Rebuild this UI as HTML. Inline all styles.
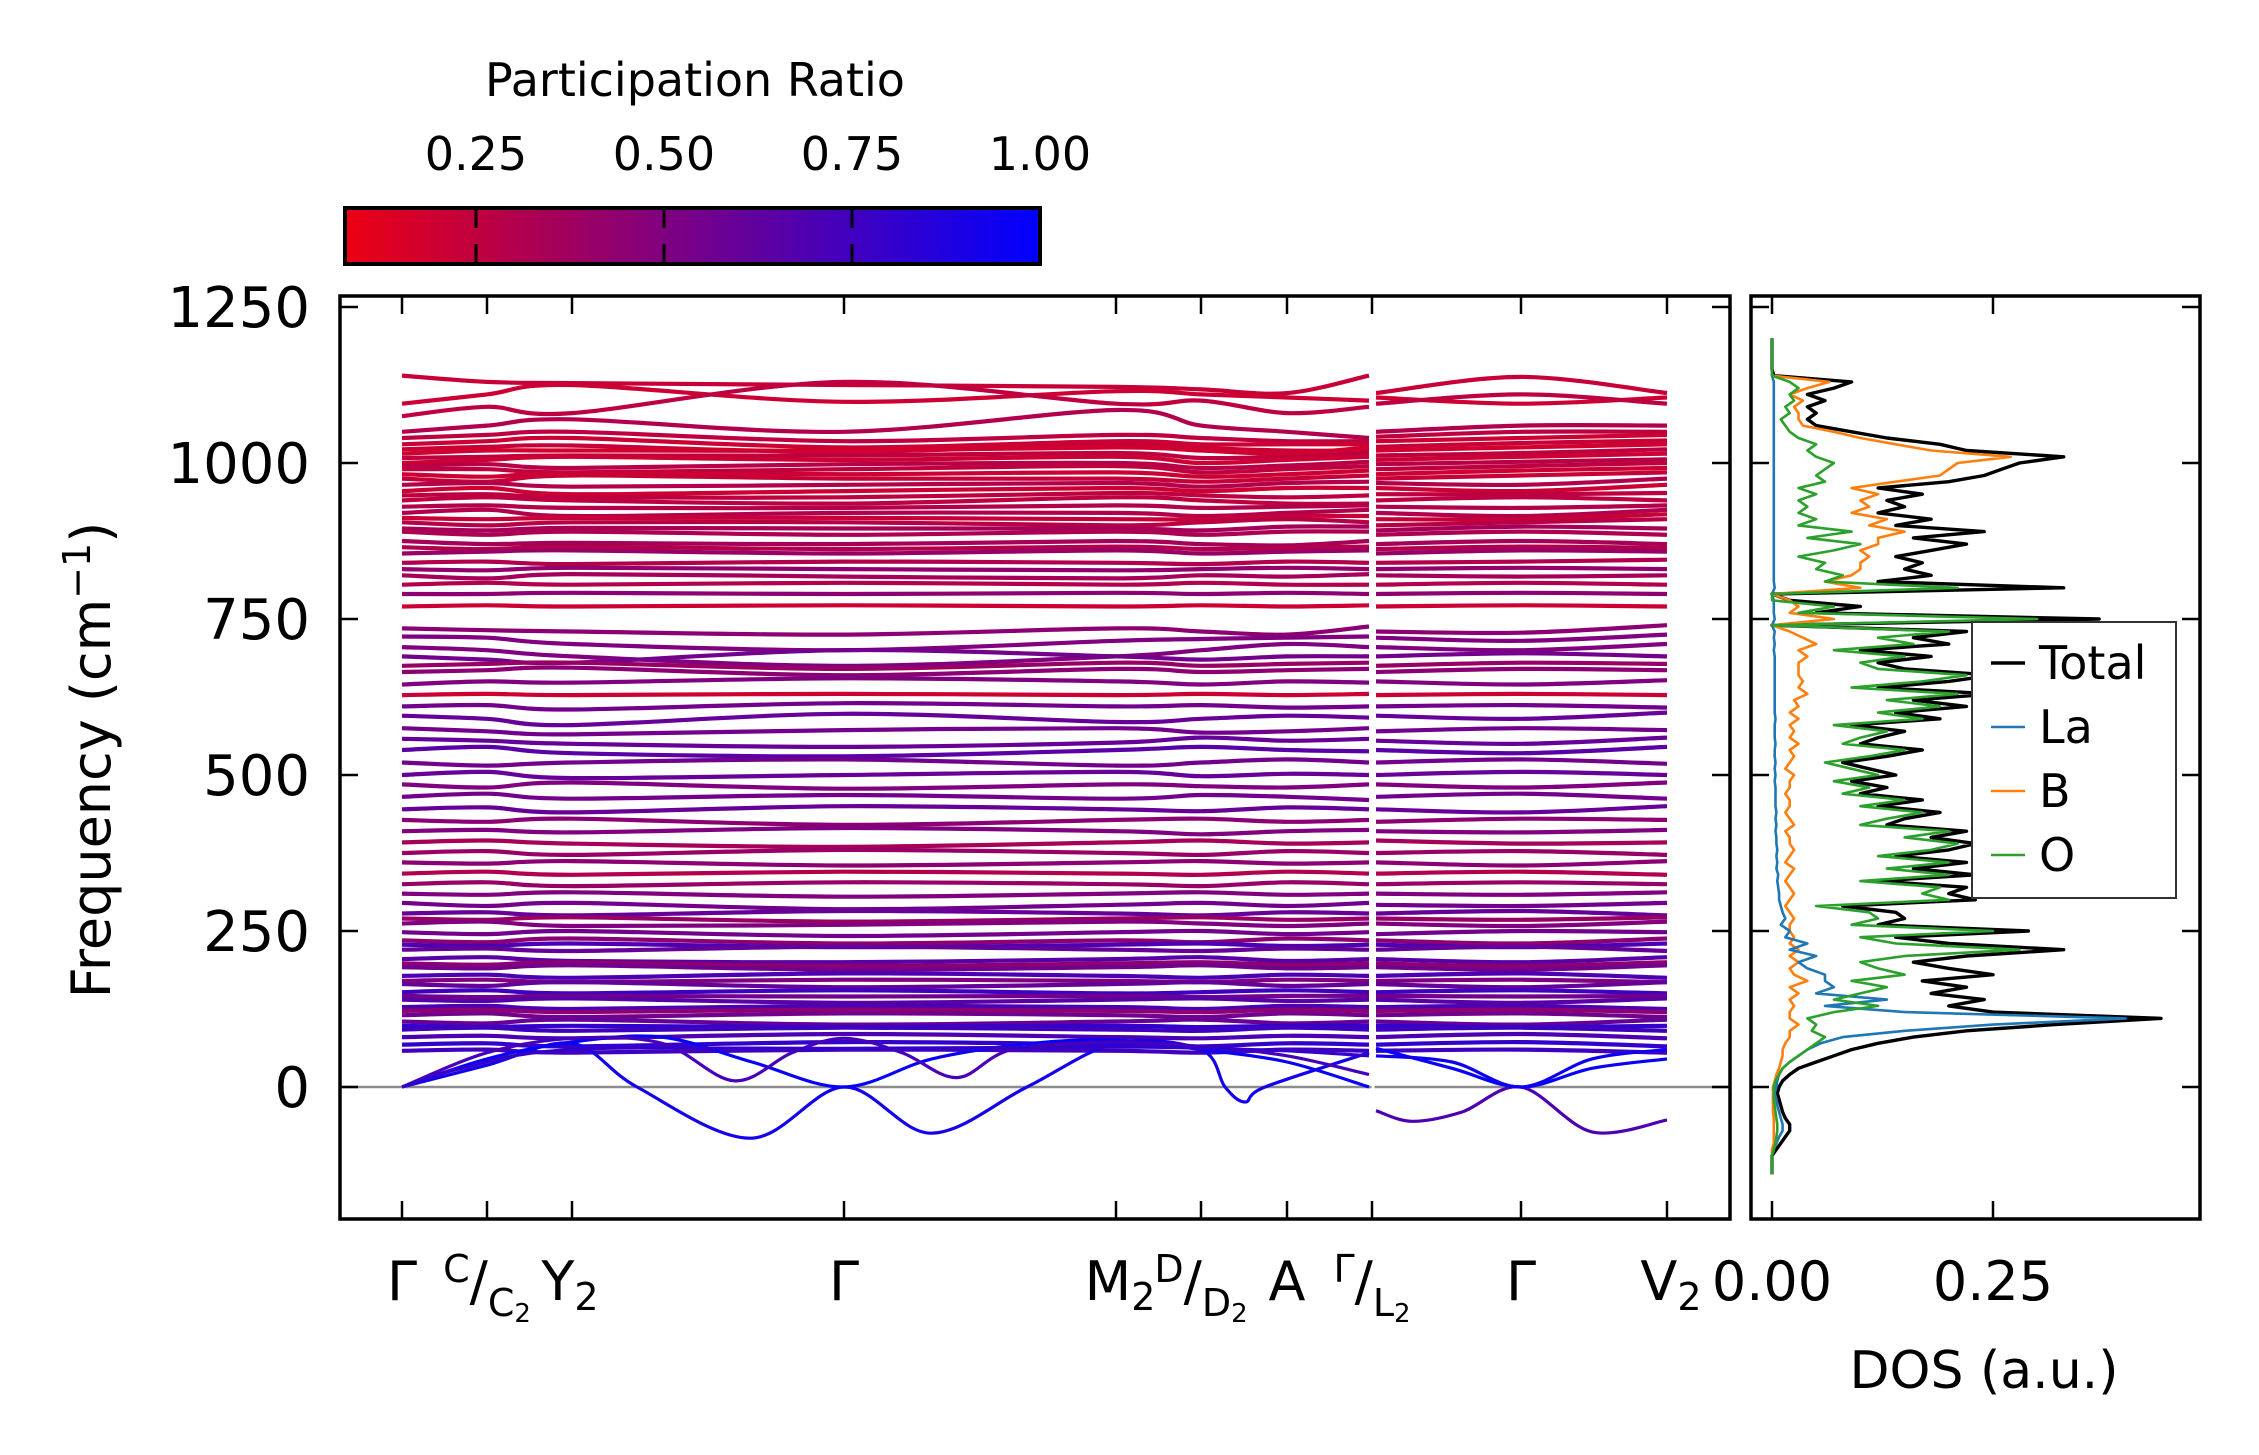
<!DOCTYPE html>
<html><head><meta charset="utf-8"><style>
html,body{margin:0;padding:0;background:#fff;}
svg{display:block;font-family:"DejaVu Sans","Liberation Sans",sans-serif;}
</style></head><body>
<svg id="fig" width="2259" height="1455" viewBox="0 0 2259 1455" xmlns="http://www.w3.org/2000/svg">
<defs>
<linearGradient id="cbgrad" x1="0" x2="1" y1="0" y2="0">
<stop offset="0" stop-color="rgb(236,0,19)"/><stop offset="1" stop-color="rgb(0,0,255)"/>
</linearGradient>
<clipPath id="bandclip"><rect x="340" y="295" width="1390" height="924"/></clipPath>
<clipPath id="dosclip"><rect x="1751" y="295" width="449" height="924"/></clipPath>
</defs>
<g id="colorbar">
<text x="695" y="96" font-size="46" text-anchor="middle">Participation Ratio</text>
<rect x="345" y="208" width="695" height="56" fill="url(#cbgrad)" stroke="#000" stroke-width="4"/>
<g id="cbticks"></g>
</g>
<g id="band-panel">
<g id="bands" clip-path="url(#bandclip)"></g>
<rect x="340" y="296" width="1390" height="923" fill="none" stroke="#000" stroke-width="3.5"/>
<g id="bandticks"></g>
<text transform="translate(110,760) rotate(-90)" font-size="54" text-anchor="middle">Frequency (cm<tspan font-size="38" dy="-20">−1</tspan><tspan dy="20">)</tspan></text>
</g>
<g id="dos-panel">
<g id="dos" clip-path="url(#dosclip)"></g>
<rect x="1751" y="296" width="449" height="923" fill="none" stroke="#000" stroke-width="3.5"/>
<g id="dosticks"></g>
<text x="1984" y="1388" font-size="52" text-anchor="middle">DOS (a.u.)</text>
<g id="legend">
<rect x="1972" y="622" width="204" height="276" fill="#fff" stroke="#333" stroke-width="2"/>
</g>
</g>
</svg>
<script>
const kLabelsPos = [0, 0.85, 1.70, 4.42, 7.14, 7.99, 8.85, 9.70, 11.19, 12.65];
const leftK = [0, 0.85, 1.70, 4.42, 7.14, 7.99, 8.85, 9.67];
const rightK = [9.74, 11.19, 12.65];
const bandFreqs = [
[1140,1130,1128,1125,1122,1118,1112,1140,1112,1138,1112],
[1095,1110,1125,1098,1115,1110,1105,1100,1105,1095,1105],
[1075,1090,1080,1130,1095,1100,1080,1090,1095,1110,1095],
[1050,1060,1070,1050,1085,1060,1050,1040,1050,1060,1060],
[1040,1045,1050,1035,1045,1040,1035,1035,1042,1050,1050],
[1030,1035,1040,1025,1035,1030,1030,1030,1035,1040,1045],
[1022,1026,1028,1018,1030,1024,1020,1020,1026,1032,1036],
[1015,1020,1020,1020,1025,1020,1015,1025,1020,1025,1030],
[1008,1010,1012,1012,1016,1008,1010,1016,1012,1016,1022],
[1000,1005,1010,1005,1010,1000,1005,1010,1005,1010,1015],
[995,998,992,998,1000,992,996,1002,998,1002,1006],
[990,990,985,990,995,985,990,995,990,995,1000],
[982,978,984,982,985,978,982,988,982,988,992],
[975,970,980,975,975,970,975,980,975,980,985],
[965,968,962,965,968,962,968,970,968,965,975],
[955,960,950,955,960,955,960,960,960,955,965],
[948,950,945,945,952,948,945,948,950,950,952],
[940,945,940,935,945,940,935,935,940,945,940],
[930,932,928,928,932,928,930,932,930,928,932],
[920,925,915,920,920,915,920,925,920,915,925],
[912,910,912,912,910,910,915,915,910,910,918],
[905,900,905,905,900,905,910,905,900,905,910],
[895,892,896,895,895,892,898,898,892,898,895],
[890,885,890,885,890,885,890,890,885,890,885],
[875,870,872,870,875,870,868,875,870,875,870],
[865,862,866,862,866,862,864,866,862,866,864],
[855,858,860,855,860,855,858,860,855,860,858],
[840,842,838,842,840,838,842,840,840,842,845],
[830,828,832,830,828,830,832,830,830,832,830],
[820,815,822,818,815,820,818,822,820,818,820],
[805,808,805,808,805,808,805,805,805,808,805],
[790,790,792,790,792,790,792,790,790,792,790],
[770,772,770,772,770,772,770,772,770,772,770],
[735,732,730,725,735,730,725,738,730,728,740],
[722,720,710,700,715,718,720,722,720,715,725],
[705,700,690,675,690,700,710,705,705,700,710],
[690,685,680,700,690,685,690,690,690,695,690],
[675,678,680,670,680,675,678,680,675,680,678],
[665,668,672,660,670,665,668,670,665,670,668],
[645,650,648,655,650,645,650,648,650,645,652],
[628,630,628,630,628,630,628,630,628,630,628],
[610,612,605,615,610,612,608,610,610,612,608],
[595,590,580,598,585,590,595,592,595,590,600],
[575,570,565,572,575,568,570,575,570,575,572],
[558,555,550,545,552,560,555,558,555,550,560],
[540,545,535,530,540,545,540,538,540,535,545],
[520,515,520,525,515,520,525,520,520,525,518],
[500,505,495,500,505,498,502,500,500,505,500],
[485,480,488,478,485,482,480,485,485,480,488],
[465,470,462,468,462,468,465,460,465,470,462],
[445,448,440,450,445,442,448,445,445,440,450],
[428,425,430,420,428,430,425,428,425,430,428],
[410,412,408,415,410,405,410,412,410,408,412],
[392,395,390,385,392,395,390,392,395,390,392],
[375,378,372,380,375,372,378,375,375,378,372],
[360,358,362,355,360,362,358,360,360,355,362],
[342,345,340,345,342,340,345,342,342,345,340],
[325,328,322,328,325,322,328,325,325,328,325],
[310,308,312,305,310,312,308,310,310,308,312],
[295,290,295,285,292,295,290,295,292,290,295],
[278,280,275,282,278,275,280,278,278,282,275],
[270,268,272,265,270,272,268,270,270,268,272],
[262,265,258,260,265,262,258,262,262,258,265],
[248,245,250,242,248,250,245,248,245,250,248],
[235,232,238,230,235,232,238,235,235,230,238],
[228,226,230,224,228,230,226,228,228,224,230],
[220,222,218,225,220,218,222,220,220,225,218],
[205,208,202,200,205,208,202,205,205,200,208],
[198,196,200,194,198,200,196,198,198,194,200],
[192,190,195,188,192,195,190,192,192,188,195],
[178,180,175,182,178,175,180,178,178,182,175],
[170,172,168,172,170,168,172,170,170,172,168],
[165,162,168,160,165,168,162,165,165,160,168],
[152,155,150,155,150,152,155,152,152,155,150],
[146,144,146,145,146,144,146,146,146,145,146],
[140,138,142,135,140,142,138,140,140,135,142],
[128,130,125,130,128,125,130,128,128,130,125],
[122,124,120,124,122,120,124,122,122,124,120],
[115,118,112,118,115,112,118,115,115,118,112],
[105,102,108,100,105,108,102,105,105,100,108],
[98,96,98,96,98,96,98,98,98,96,98],
[92,95,90,95,92,90,95,92,92,95,90],
[80,82,78,85,80,78,82,80,80,85,78],
[68,70,65,72,68,65,70,68,68,72,65],
[58,60,55,60,58,55,60,58,58,60,55]
];
const bandPR = [.22,.2,.25,.3,.25,.2,.22,.18,.25,.2,.28,.25,.2,.22,.3,.2,.25,.25,.3,.3,.22,.28,.35,.32,.35,.3,.4,.3,.42,.35,.3,.45,.2,.45,.5,.5,.55,.4,.45,.5,.2,.55,.6,.55,.6,.65,.55,.6,.5,.55,.6,.45,.5,.35,.4,.45,.3,.4,.5,.55,.6,.4,.5,.55,.45,.7,.6,.65,.45,.55,.7,.5,.6,.75,.55,.65,.7,.45,.55,.6,.8,.75,.7,.8,.75];
const softK = [
[0,0.85,1.70,2.35,3.48,4.42,5.29,6.25,7.14,7.99,8.23,8.43,8.63,9.67],
[0,0.85,1.70,2.6,3.5,4.42,5.3,6.3,7.14,7.99,8.85,9.67],
[0,0.85,1.70,2.6,3.32,3.9,4.42,5.0,5.55,6.1,7.14,7.99,8.85,9.67],
[0,0.6,1.70,4.42,7.14,7.99,8.85,9.67],
[9.74,10.1,10.6,11.19,11.9,12.65],
[9.74,10.5,11.19,11.9,12.65],
[9.74,10.5,11.19,11.9,12.65]
];
const softF = [
[0,35,70,0,-82,0,-74,0,70,60,0,-24,0,55],
[0,45,72,80,40,0,45,70,75,60,40,0],
[0,55,78,70,10,55,78,55,15,60,72,65,50,20],
[0,30,60,62,64,62,58,50],
[-38,-55,-40,0,-72,-53],
[62,30,0,30,45],
[50,40,0,45,60]
];
const softPR = [0.92,0.97,0.72,0.8,0.7,0.97,0.95];

const dosStart = -140, dosStep = 10;
const dosTotal = [0,0,0,0,0.005,0.01, 0.015,0.02,0.02,0.015,0.012,0.01,0.008,0.006, 0.008,0.012,0.02,0.03,0.05,0.07,
0.09,0.12,0.16,0.22,0.32,0.44,0.25, 0.2,0.24,0.18,0.22,0.17,0.25,0.2, 0.16,0.22,0.33,0.2,0.14,0.29,
0.12,0.15,0.14,0.08,0.23,0.2,0.22, 0.12,0.23,0.16,0.22,0.14,0.2,0.23, 0.18,0.22,0.13,0.15,0.19,0.12,0.17,
0.1,0.13,0.09,0.14,0.11,0.08,0.13, 0.17,0.1,0.12,0.15,0.09,0.19,0.14, 0.22,0.16,0.25,0.12,0.2,0.25,0.15,
0.12,0.18,0.1,0.2,0.16,0.22,0.0, 0.37,0.05,0.1,0.02,0.0, 0.33,0.12,0.18,0.15,0.17,0.14,0.18,
0.22,0.16,0.24,0.14,0.18,0.12,0.15, 0.13,0.17,0.12,0.2,0.24,0.26,0.28, 0.33,0.22,0.19,0.13,0.09,0.05,
0.04,0.05,0.04,0.06,0.04,0.07,0.09, 0.002,0,0,0,0,0,0];
const dosO = [0,0,0,0,0.002,0.004, 0.005,0.006,0.006,0.005,0.004,0.003,0.002,0.002, 0.002,0.004,0.008,0.012,0.02,0.03,
0.04,0.05,0.06,0.045,0.05,0.04,0.07, 0.12,0.07,0.1,0.13,0.09,0.15,0.12, 0.1,0.15,0.28,0.14,0.1,0.25,
0.09,0.12,0.11,0.05,0.2,0.17,0.19, 0.1,0.2,0.13,0.2,0.12,0.18,0.21, 0.15,0.2,0.1,0.13,0.17,0.1,0.15,
0.08,0.11,0.07,0.12,0.09,0.06,0.11, 0.15,0.08,0.1,0.13,0.07,0.17,0.12, 0.19,0.13,0.21,0.09,0.17,0.22,0.12,
0.1,0.15,0.07,0.16,0.12,0.2,0.0, 0.3,0.03,0.07,0.0,0.0, 0.21,0.06,0.08,0.05,0.06,0.03,0.07,
0.1,0.04,0.09,0.03,0.05,0.03,0.04, 0.03,0.05,0.03,0.06,0.05,0.06,0.07, 0.05,0.04,0.05,0.03,0.02,0.015,
0.01,0.02,0.015,0.025,0.02,0.03,0.02, 0,0,0,0,0,0,0];
const dosB = [0,0,0,0,0,0.002, 0.002,0.002,0.002,0.002,0.001,0.001,0.001,0.001, 0.001,0.003,0.005,0.008,0.01,0.012,
0.012,0.015,0.02,0.02,0.03,0.02,0.02, 0.025,0.02,0.03,0.02,0.04,0.025,0.02, 0.03,0.02,0.03,0.02,0.025,0.02,
0.02,0.025,0.02,0.015,0.02,0.025,0.02, 0.015,0.02,0.025,0.015,0.02,0.025,0.02, 0.02,0.015,0.025,0.02,0.015,0.02,0.02,
0.015,0.02,0.02,0.025,0.015,0.02,0.025, 0.02,0.03,0.02,0.025,0.02,0.03,0.02, 0.03,0.025,0.04,0.03,0.035,0.03,0.03,
0.03,0.04,0.03,0.05,0.035,0.02,0.0, 0.07,0.02,0.03,0.02,0.0, 0.1,0.06,0.09,0.1,0.1,0.11,0.1,
0.12,0.12,0.15,0.11,0.13,0.09,0.11, 0.1,0.12,0.09,0.14,0.19,0.2,0.21, 0.27,0.18,0.14,0.1,0.07,0.035,
0.03,0.03,0.025,0.035,0.02,0.04,0.065, 0,0,0,0,0,0,0];
const dosLa = [0,0,0,0,0.002,0.005, 0.008,0.012,0.012,0.01,0.008,0.006,0.005,0.003, 0.005,0.006,0.008,0.012,0.02,0.03,
0.04,0.055,0.08,0.15,0.25,0.4,0.15, 0.06,0.13,0.05,0.07,0.06,0.06,0.04, 0.03,0.05,0.02,0.04,0.015,0.02,
0.01,0.015,0.012,0.01,0.008,0.008,0.007, 0.006,0.007,0.005,0.006,0.005,0.006,0.005, 0.005,0.004,0.005,0.004,0.005,0.004,0.004,
0.004,0.004,0.003,0.004,0.003,0.004,0.003, 0.003,0.004,0.003,0.003,0.003,0.004,0.003, 0.003,0.003,0.003,0.003,0.003,0.003,0.003,
0.003,0.003,0.002,0.003,0.002,0.003,0.0, 0.003,0.002,0.002,0.002,0.0, 0.003,0.002,0.002,0.002,0.002,0.002,0.002,
0.002,0.002,0.002,0.002,0.002,0.002,0.002, 0.002,0.002,0.002,0.002,0.002,0.002,0.002, 0.002,0.002,0.002,0.002,0.002,0.002,
0.002,0.002,0.002,0.002,0.002,0.002,0.002, 0,0,0,0,0,0,0];
const yTickVals = [0, 250, 500, 750, 1000, 1250];
const yTickLabels = ["0", "250", "500", "750", "1000", "1250"];
const cbTickVals = [0.25, 0.5, 0.75, 1.0];
const cbTickLabels = ["0.25", "0.50", "0.75", "1.00"];
const dosTickVals = [0, 0.25];
const dosTickLabels = ["0.00", "0.25"];

const NS = "http://www.w3.org/2000/svg";
function xK(k){ return 340 + (k + 0.62) / 13.9 * 1390; }
function yF(f){ return 1087 - f * 156 / 250; }
function xD(v){ return 1772 + v * 884; }
function xCB(v){ return 1040 - (1 - v) * 752; }
function prColor(p){ return "rgb(" + Math.round(255*(1-p)) + ",0," + Math.round(255*p) + ")"; }
function mk(tag, attrs, parent){ const e = document.createElementNS(NS, tag); for (const a in attrs) e.setAttribute(a, attrs[a]); parent.appendChild(e); return e; }
function smoothPath(pts){
  let d = "M" + pts[0][0].toFixed(1) + "," + pts[0][1].toFixed(1);
  for (let i = 0; i < pts.length - 1; i++){
    const p0 = pts[Math.max(0,i-1)], p1 = pts[i], p2 = pts[i+1], p3 = pts[Math.min(pts.length-1,i+2)];
    const c1x = p1[0] + (p2[0]-p0[0])/6, c1y = p1[1] + (p2[1]-p0[1])/6;
    const c2x = p2[0] - (p3[0]-p1[0])/6, c2y = p2[1] - (p3[1]-p1[1])/6;
    d += " C" + c1x.toFixed(1) + "," + c1y.toFixed(1) + " " + c2x.toFixed(1) + "," + c2y.toFixed(1) + " " + p2[0].toFixed(1) + "," + p2[1].toFixed(1);
  }
  return d;
}

const cbt = document.getElementById("cbticks");
cbTickVals.forEach((v, i) => {
  if (v < 1) {
    const t1 = mk("line", {x1:xCB(v), x2:xCB(v), y1:208, y2:228, stroke:"#000", "stroke-width":3}, cbt);
    
    
    const t2 = mk("line", {x1:xCB(v), x2:xCB(v), y1:244, y2:264, stroke:"#000", "stroke-width":3}, cbt);
    
    
  }
  const tl = mk("text", {x:xCB(v), y:170, "font-size":46, "text-anchor":"middle"}, cbt);
  tl.textContent = cbTickLabels[i];
  
  
});

const bg = document.getElementById("bands");
const zl = mk("line", {x1:340, x2:1730, y1:yF(0), y2:yF(0), stroke:"#8c8c8c", "stroke-width":2.5}, bg);


bandFreqs.forEach((b, i) => {
  const col = prColor(bandPR[i]);
  const lp = leftK.map((k, j) => [xK(k), yF(b[j])]);
  const rp = rightK.map((k, j) => [xK(k), yF(b[8 + j])]);
  const p1 = mk("path", {d:smoothPath(lp), fill:"none", stroke:col, "stroke-width":4.2}, bg);
  
  
  const p2 = mk("path", {d:smoothPath(rp), fill:"none", stroke:col, "stroke-width":4.2}, bg);
  
  
});
softK.forEach((ks, i) => {
  const pts = ks.map((k, j) => [xK(k), yF(softF[i][j])]);
  const p = mk("path", {d:smoothPath(pts), fill:"none", stroke:prColor(softPR[i]), "stroke-width":3.2}, bg);
  
  
});
const gap = mk("rect", {x:xK(9.695), y:296, width:3, height:923, fill:"#fff"}, bg);



const bt = document.getElementById("bandticks");
kLabelsPos.forEach(k => {
  const a = mk("line", {x1:xK(k), x2:xK(k), y1:1219, y2:1201, stroke:"#000", "stroke-width":2.5}, bt);
  
  
  const b2 = mk("line", {x1:xK(k), x2:xK(k), y1:296, y2:314, stroke:"#000", "stroke-width":2.5}, bt);
  
  
});
yTickVals.forEach((v, i) => {
  const a = mk("line", {x1:340, x2:358, y1:yF(v), y2:yF(v), stroke:"#000", "stroke-width":2.5}, bt);
  
  
  const b2 = mk("line", {x1:1712, x2:1730, y1:yF(v), y2:yF(v), stroke:"#000", "stroke-width":2.5}, bt);
  
  
  const t = mk("text", {x:310, y:yF(v)+20, "font-size":56, "text-anchor":"end"}, bt);
  t.textContent = yTickLabels[i];
  
  
  const a2 = mk("line", {x1:1751, x2:1769, y1:yF(v), y2:yF(v), stroke:"#000", "stroke-width":2.5}, bt);
  
  
  const b3 = mk("line", {x1:2182, x2:2200, y1:yF(v), y2:yF(v), stroke:"#000", "stroke-width":2.5}, bt);
  
  
});
const kl = [
  {x:xK(0), html:'Γ'},
  {x:xK(0.85), html:'<tspan font-size="38" dy="-18">C</tspan><tspan dy="18">/</tspan><tspan font-size="38" dy="16">C</tspan><tspan font-size="26" dy="6">2</tspan>'},
  {x:xK(1.70)-2, html:'Y<tspan font-size="38" dy="10">2</tspan>'},
  {x:xK(4.42), html:'Γ'},
  {x:xK(7.14)+4, html:'M<tspan font-size="38" dy="10">2</tspan>'},
  {x:xK(7.99), html:'<tspan font-size="38" dy="-18">D</tspan><tspan dy="18">/</tspan><tspan font-size="38" dy="16">D</tspan><tspan font-size="26" dy="6">2</tspan>'},
  {x:xK(8.85), html:'A'},
  {x:xK(9.70), html:'<tspan font-size="38" dy="-18">Γ</tspan><tspan dy="18">/</tspan><tspan font-size="38" dy="16">L</tspan><tspan font-size="26" dy="6">2</tspan>'},
  {x:xK(11.19), html:'Γ'},
  {x:xK(12.65)+4, html:'V<tspan font-size="38" dy="10">2</tspan>'}
];
kl.forEach(o => {
  const t = mk("text", {x:o.x, y:1300, "font-size":54, "text-anchor":"middle"}, bt);
  t.innerHTML = o.html;
  
  
});

const dg = document.getElementById("dos");
function dosPath(arr){ return arr.map((v, i) => [xD(v), yF(dosStart + i * dosStep)]); }
function linePath(pts){ return "M" + pts.map(p => p[0].toFixed(1) + "," + p[1].toFixed(1)).join(" L"); }
const dosSeries = [
  {arr:dosTotal, col:"#000000", w:3.4, name:"dos-total-line"},
  {arr:dosB, col:"#ff7f0e", w:2.6, name:"dos-b-line"},
  {arr:dosLa, col:"#1f77b4", w:2.6, name:"dos-la-line"},
  {arr:dosO, col:"#2ca02c", w:2.6, name:"dos-o-line"}
];
dosSeries.forEach(s => {
  const p = mk("path", {d:linePath(dosPath(s.arr)), fill:"none", stroke:s.col, "stroke-width":s.w, "stroke-linejoin":"round"}, dg);
  
  
});
const dt = document.getElementById("dosticks");
dosTickVals.forEach((v, i) => {
  const a = mk("line", {x1:xD(v), x2:xD(v), y1:1219, y2:1201, stroke:"#000", "stroke-width":2.5}, dt);
  
  
  const b2 = mk("line", {x1:xD(v), x2:xD(v), y1:296, y2:314, stroke:"#000", "stroke-width":2.5}, dt);
  
  
  const t = mk("text", {x:xD(v), y:1300, "font-size":54, "text-anchor":"middle"}, dt);
  t.textContent = dosTickLabels[i];
  
  
});
const lg = document.getElementById("legend");
const legendLabels = ["Total", "La", "B", "O"];
const legendColors = ["#000000", "#1f77b4", "#ff7f0e", "#2ca02c"];
legendLabels.forEach((lab, i) => {
  const y = 663 + i * 64;
  const l = mk("line", {x1:1991, x2:2025, y1:y, y2:y, stroke:legendColors[i], "stroke-width": i===0?3.5:2.6}, lg);
  
  
  const t = mk("text", {x:2039, y:y + 16, "font-size":46}, lg);
  t.textContent = lab;
  
  
});
</script>
</body></html>
